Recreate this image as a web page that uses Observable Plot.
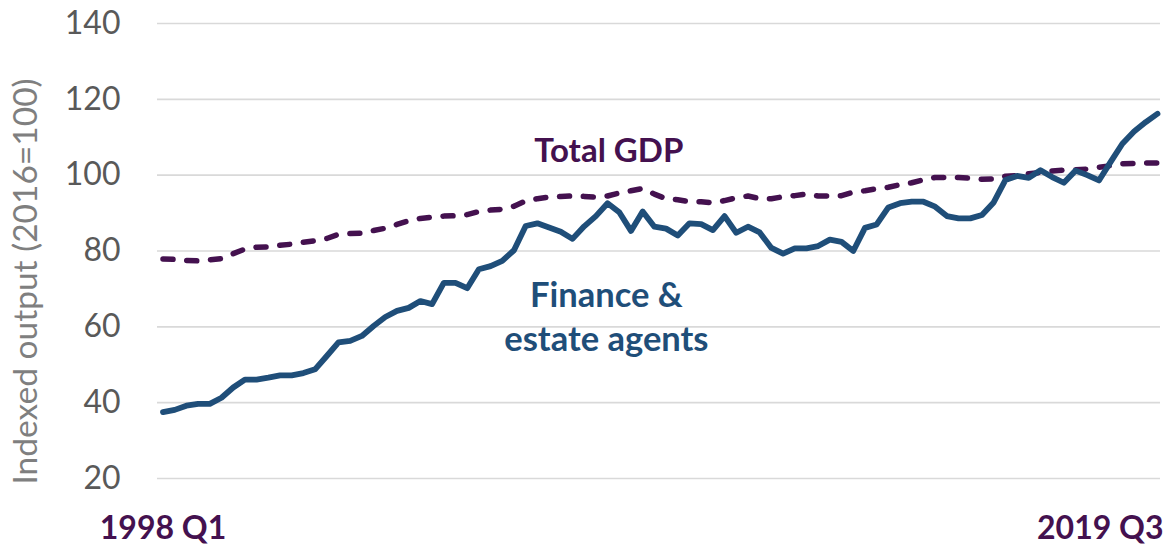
<!DOCTYPE html>
<html>
<head>
<meta charset="utf-8">
<script src="https://cdn.jsdelivr.net/npm/d3@7"></script>
<script src="https://cdn.jsdelivr.net/npm/@observablehq/plot@0.6"></script>
<style>
  html, body { margin: 0; padding: 0; background: #ffffff; }
  #chart svg { display: block; }
</style>
</head>
<body>
<div id="chart"></div>
<script>
// Quarterly index values (2016 = 100)
const finance = [
  37.5, 38.1, 39.2, 39.7, 39.7, 41.3, 44.0, 46.1, 46.1, 46.6,
  47.2, 47.2, 47.8, 48.8, 52.3, 55.9, 56.3, 57.6, 60.2, 62.6,
  64.2, 65.0, 66.8, 66.0, 71.6, 71.6, 70.2, 75.2, 76.0, 77.4,
  80.2, 86.6, 87.3, 86.2, 85.1, 83.2, 86.5, 89.2, 92.6, 90.2,
  85.3, 90.4, 86.4, 85.9, 84.1, 87.3, 87.1, 85.5, 89.2, 84.8,
  86.4, 84.9, 80.8, 79.3, 80.7, 80.7, 81.3, 83.0, 82.4, 80.0,
  86.1, 87.0, 91.5, 92.6, 93.0, 93.0, 91.7, 89.2, 88.6, 88.6,
  89.5, 92.8, 98.7, 99.8, 99.3, 101.3, 99.5, 98.0, 101.2, 100.0,
  98.6, 103.5, 108.3, 111.5, 114.0, 116.2
];
const gdp = [
  77.9, 77.8, 77.5, 77.4, 77.7, 78.0, 79.3, 80.5, 81.0, 81.1,
  81.5, 81.8, 82.3, 82.7, 83.3, 84.4, 84.6, 84.7, 85.4, 86.0,
  87.0, 88.0, 88.6, 88.9, 89.2, 89.3, 89.6, 90.4, 90.8, 91.0,
  91.8, 93.2, 93.8, 94.2, 94.4, 94.5, 94.4, 94.2, 94.5, 95.3,
  95.9, 96.5, 95.0, 93.8, 93.5, 93.0, 93.0, 92.7, 93.3, 94.0,
  94.5, 93.8, 93.8, 94.3, 94.6, 95.0, 94.5, 94.5, 94.6, 95.5,
  95.9, 96.4, 96.8, 97.5, 98.0, 98.8, 99.4, 99.4, 99.4, 99.2,
  98.9, 99.0, 99.7, 99.9, 100.4, 100.7, 101.1, 101.3, 101.4, 101.6,
  102.1, 102.5, 103.0, 103.1, 103.2, 103.2
];
const yTicks = [20, 40, 60, 80, 100, 120, 140];
const xLabels = ["1998 Q1", "2019 Q3"];
const yTitle = "Indexed output (2016=100)";
const gdpLabel = ["Total GDP"];
const financeLabel = ["Finance &", "estate agents"];

// table built from the arrays above
const rows = finance.map((v, i) => ({ i, finance: v, gdp: gdp[i] }));
const last = finance.length - 1;

const purple = "#44114f";
const blue = "#1f4e79";

const chart = Plot.plot({
  width: 1173,
  height: 546,
  marginLeft: 157,
  marginRight: 13,
  marginTop: 23,
  marginBottom: 68,
  style: { fontFamily: "Lato, 'Open Sans', sans-serif", background: "#ffffff", overflow: "visible" },
  x: { domain: [-0.47, last + 0.26], axis: null },
  y: { domain: [20, 140], axis: null },
  marks: [
    Plot.gridY(yTicks, { stroke: "#d9d9d9", strokeOpacity: 1, strokeWidth: 1.6 }),
    Plot.axisY(yTicks, {
      tickSize: 0, tickPadding: 37, fontSize: 32, fill: "#595959", label: null
    }),
    Plot.text([yTitle], {
      frameAnchor: "left", rotate: -90, dx: -131, dy: 30.5,
      textAnchor: "middle", fontSize: 33.5, fill: "#7f7f7f"
    }),
    Plot.line(rows, {
      x: "i", y: "gdp", stroke: purple, strokeWidth: 5.5,
      strokeDasharray: "10,13.8", strokeLinecap: "round", strokeLinejoin: "round"
    }),
    Plot.line(rows, {
      x: "i", y: "finance", stroke: blue, strokeWidth: 5.8,
      strokeLinecap: "round", strokeLinejoin: "round"
    }),
    Plot.text([{ t: xLabels[0], i: 0 }], {
      x: "i", text: "t", frameAnchor: "bottom", lineAnchor: "bottom", dy: 60,
      textAnchor: "middle", fontSize: 32, fontWeight: "bold", fill: purple
    }),
    Plot.text([{ t: xLabels[1], i: last }], {
      x: "i", text: "t", frameAnchor: "bottom", lineAnchor: "bottom", dy: 60, dx: 6,
      textAnchor: "end", fontSize: 32, fontWeight: "bold", fill: purple
    }),
    Plot.text([{ t: gdpLabel[0], i: 38.1, v: 103.5 }], {
      x: "i", y: "v", text: "t", lineAnchor: "bottom",
      fontSize: 33, fontWeight: "bold", fill: purple
    }),
    Plot.text([{ t: financeLabel[0], i: 37.9, v: 65.2 }, { t: financeLabel[1], i: 37.9, v: 53.6 }], {
      x: "i", y: "v", text: "t", lineAnchor: "bottom",
      fontSize: 34.5, fontWeight: "bold", fill: blue
    })
  ]
});
document.getElementById("chart").appendChild(chart);
</script>
</body>
</html>
